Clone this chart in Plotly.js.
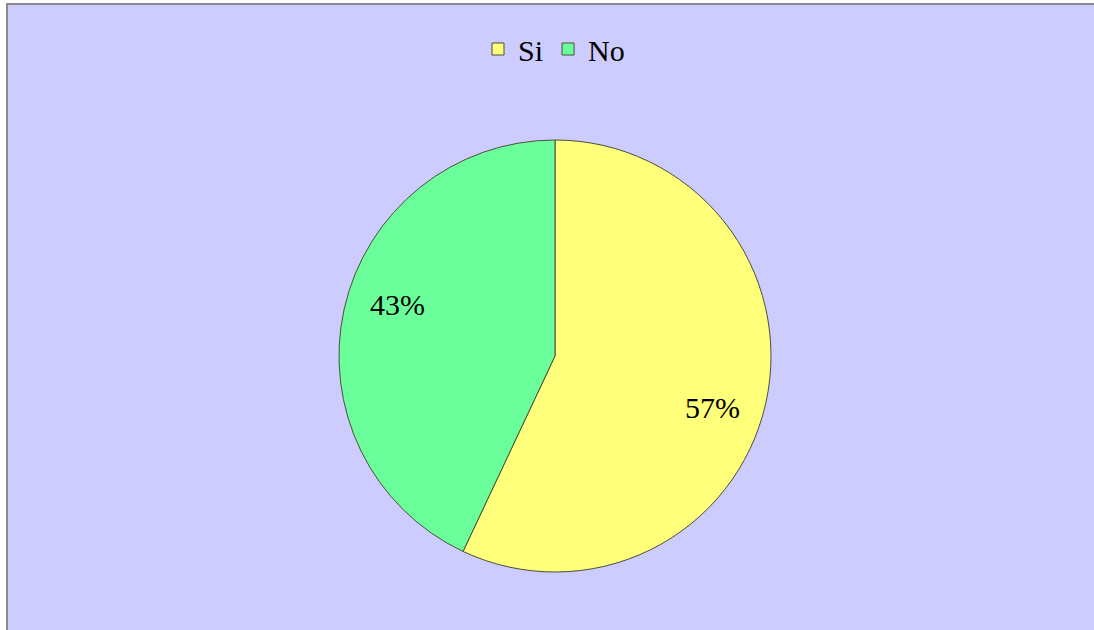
<!DOCTYPE html>
<html><head><meta charset="utf-8">
<script src="https://cdn.plot.ly/plotly-3.0.1.min.js"></script>
<style>
html,body{margin:0;padding:0;background:#fff;overflow:hidden;width:1094px;height:630px;}
#chart{position:absolute;left:6px;top:3px;width:1100px;height:640px;border-left:2px solid #8a8a8a;border-top:2px solid #8a8a8a;}
</style></head>
<body><div id="chart"></div>
<script>
const categories = ["Si", "No"];
const values = [57, 43];
const colors = ["#FFFF7A", "#6BFF9C"];

const FONT = "'Times New Roman', 'Liberation Serif', serif";
const W = 1100, H = 640;
const M = {l: 331, r: 337, t: 135, b: 73};

// label positions derived from slice angles (clockwise from 12 o'clock)
const total = values.reduce((a, b) => a + b, 0);
let acc = 0;
const annotations = values.map((v, i) => {
  const mid = (acc + v / 2) / total * 2 * Math.PI;
  acc += v;
  const r = 0.385;
  return {
    xref: "paper", yref: "paper",
    x: 0.5 + r * Math.sin(mid) - 0.01 * Math.sign(Math.sin(mid)),
    y: 0.5 + r * Math.cos(mid) - 0.035 * Math.sign(Math.sin(mid)),
    text: Math.round(v / total * 100) + "%",
    showarrow: false,
    xanchor: "center", yanchor: "middle",
    font: {family: FONT, size: 30, color: "#000"}
  };
});

const trace = {
  type: "pie",
  labels: categories,
  values: values,
  sort: false,
  direction: "clockwise",
  rotation: 0,
  marker: {colors: colors, line: {color: "#4d4d3a", width: 1}},
  textinfo: "none",
  hoverinfo: "label+percent"
};

const layout = {
  width: W, height: H,
  paper_bgcolor: "#CCCCFF",
  plot_bgcolor: "#CCCCFF",
  margin: M,
  showlegend: true,
  annotations: annotations,
  legend: {
    orientation: "h",
    x: 0.5 - 4 / W, xanchor: "center",
    xref: "container",
    y: 1 - 44 / H, yanchor: "middle",
    yref: "container",
    font: {family: FONT, size: 30, color: "#000"},
    bgcolor: "rgba(0,0,0,0)",
    itemwidth: 30,
    tracegroupgap: 0,
    traceorder: "normal"
  }
};

Plotly.newPlot("chart", [trace], layout, {displayModeBar: false, staticPlot: true});
</script></body></html>
